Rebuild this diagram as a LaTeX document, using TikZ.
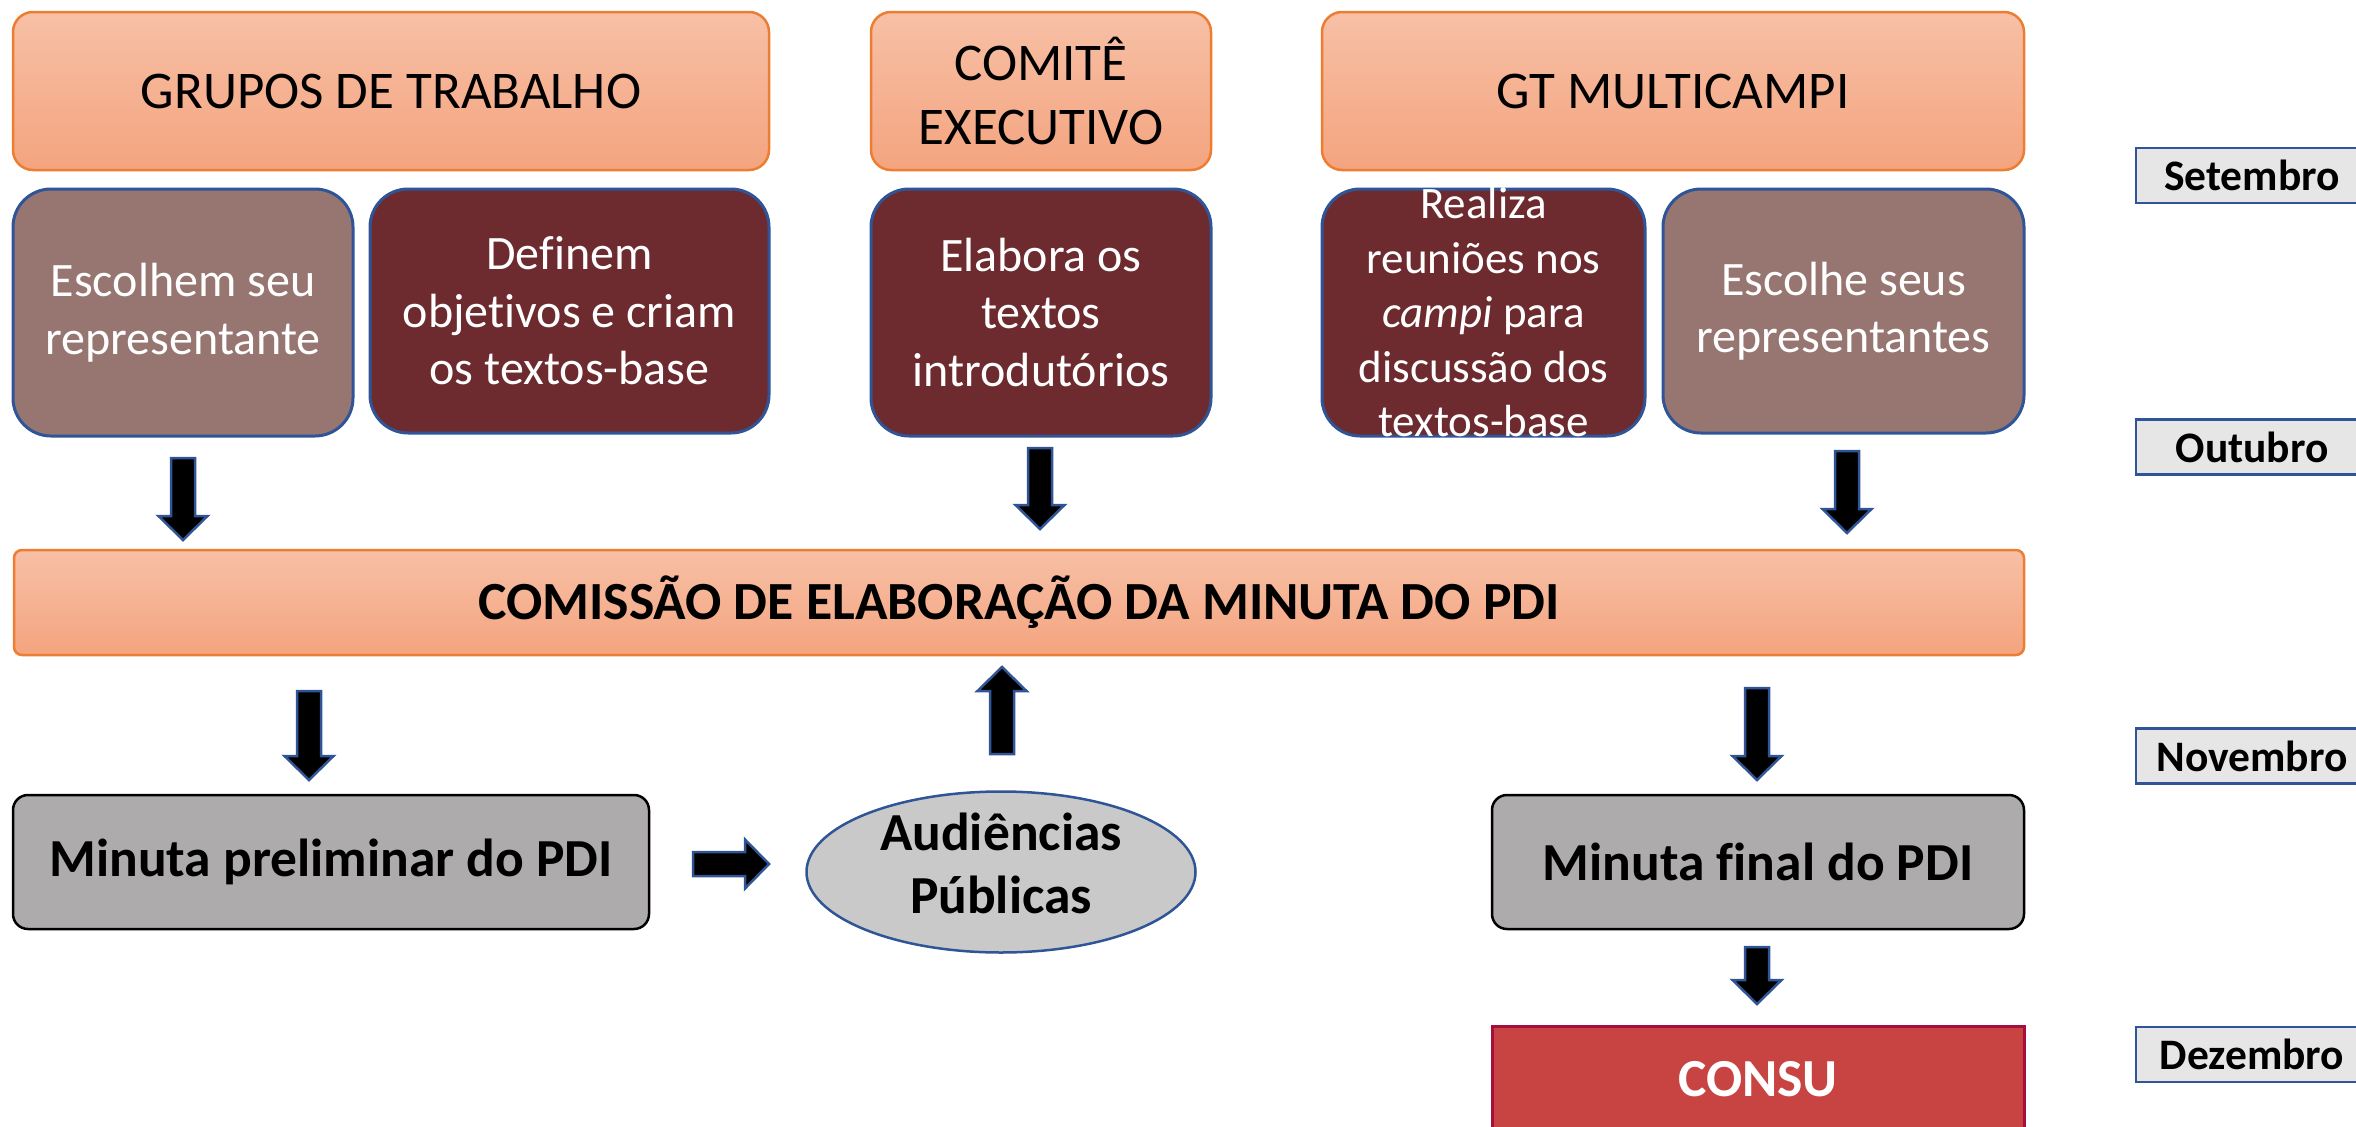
\documentclass[tikz,border=0pt]{standalone}
\usepackage{fontspec}
\setmainfont[Ligatures=NoCommon]{Carlito}
\usetikzlibrary{shapes.geometric}
\definecolor{hdrtop}{HTML}{F7C0A6}
\definecolor{hdrbot}{HTML}{F4A47F}
\definecolor{hdrline}{HTML}{ED7D31}
\definecolor{lbrown}{HTML}{977671}
\definecolor{dmaroon}{HTML}{6D2B2F}
\definecolor{bline}{HTML}{2F5597}
\definecolor{mgray}{HTML}{ADABAB}
\definecolor{egray}{HTML}{C9C9C9}
\definecolor{consufill}{HTML}{C84442}
\definecolor{consuline}{HTML}{A50F3C}
\definecolor{monthfill}{HTML}{E6E6E6}
\tikzset{
  hdr/.style={rectangle, rounded corners=20, draw=hdrline, line width=2.5,
    top color=hdrtop, bottom color=hdrbot, align=center, inner sep=0,
    font=\fontsize{53}{64.5}\selectfont},
  combox/.style={rectangle, rounded corners=8, draw=hdrline, line width=2.5,
    top color=hdrtop, bottom color=hdrbot, align=center, inner sep=0,
    font=\bfseries\fontsize{53.7}{65}\selectfont},
  actbox/.style={rectangle, rounded corners=38, draw=bline, line width=3,
    align=center, inner sep=0, text=white, font=\fontsize{48}{57.5}\selectfont},
  lightbox/.style={actbox, fill=lbrown},
  darkbox/.style={actbox, fill=dmaroon},
  minbox/.style={rectangle, rounded corners=15, draw=black, line width=2.5, fill=mgray,
    align=center, inner sep=0, font=\bfseries\fontsize{53.5}{64.5}\selectfont},
  audbox/.style={ellipse, draw=bline, line width=2.5, fill=egray, inner sep=0},
  audtext/.style={align=center, inner sep=0, font=\bfseries\fontsize{53.5}{63}\selectfont},
  consubox/.style={rectangle, draw=consuline, line width=3, fill=consufill, text=white,
    inner sep=0, font=\bfseries\fontsize{53.5}{64.5}\selectfont},
  monthbox/.style={rectangle, draw=bline, line width=2.5, fill=monthfill, inner sep=0,
    minimum width=232, minimum height=55, font=\bfseries\fontsize{43.5}{50}\selectfont},
  pics/barrow/.style={code={
    \filldraw[fill=black, draw=bline, line width=2.5, line join=miter]
      (-12,0) -- (12,0) -- (12,#1-24) -- (24.5,#1-24) -- (0,#1)
      -- (-24.5,#1-24) -- (-12,#1-24) -- cycle;}}
}
\begin{document}
\begin{tikzpicture}[x=1pt, y=-1pt]
\useasboundingbox (0,0) rectangle (2356,1127);
% headers
\node[hdr, minimum width=756, minimum height=158] (gt) at (391,91) {GRUPOS DE TRABALHO};
\node[hdr, minimum width=340, minimum height=158] (ce) at (1041,91) {COMITÊ\\EXECUTIVO};
\node[hdr, minimum width=702, minimum height=158] (gm) at (1673,91) {GT MULTICAMPI};
% activity boxes
\node[lightbox, minimum width=340, minimum height=247] (esc) at (183,312.5) {Escolhem seu\\representante};
\node[darkbox, minimum width=399, minimum height=244] (def) at (569.5,311) {Definem\\objetivos e criam\\os textos-base};
\node[darkbox, minimum width=340, minimum height=247] (ela) at (1041,312.5) {Elabora os\\textos\\introdutórios};
\node[darkbox, minimum width=323, minimum height=247] (rea) at (1483.5,312.5) {};
\begin{scope}
  \clip[rounded corners=37] ([shift={(1.5,1.5)}]rea.south west) rectangle ([shift={(-1.5,-1.5)}]rea.north east);
  \node[align=center, inner sep=0, text=white, font=\fontsize{45}{54.5}\selectfont] (reatext) at (rea.center)
    {Realiza\\reuniões nos\\\emph{campi} para\\discussão dos\\textos-base};
\end{scope}
\node[lightbox, minimum width=361, minimum height=244] (esc2) at (1843.5,311) {Escolhe seus\\representantes};
% commission
\node[combox, minimum width=2010, minimum height=105] (com) at (1019,602.5) {COMISSÃO DE ELABORAÇÃO DA MINUTA DO PDI};
% lower row
\node[minbox, minimum width=636, minimum height=134] (minp) at (331,862) {Minuta preliminar do PDI};
\node[audbox, minimum width=389, minimum height=161] (aud) at (1001,872) {};
\node[audtext] (audt) at ([yshift=9pt]aud.center) {Audiências\\Públicas};
\node[minbox, minimum width=532, minimum height=134] (minf) at (1758,862) {Minuta final do PDI};
\node[consubox, minimum width=532, minimum height=106] (consu) at (1758,1079) {CONSU};
% months
\node[monthbox] (set) at (2252,175.5) {Setembro};
\node[monthbox] (out) at (2252,447) {Outubro};
\node[monthbox] (nov) at (2252,756) {Novembro};
\node[monthbox] (dez) at (2252,1054.5) {Dezembro};
% block arrows
\pic at (183,458) {barrow=82};
\pic at (1040,448) {barrow=81};
\pic at (1847,451) {barrow=82};
\pic at (309,691) {barrow=89};
\pic[rotate=180] at (1002,754) {barrow=87};
\pic at (1757,688) {barrow=92};
\pic[rotate=90] at (693,864) {barrow=76};
\pic at (1757,947) {barrow=57};
\end{tikzpicture}
\end{document}
